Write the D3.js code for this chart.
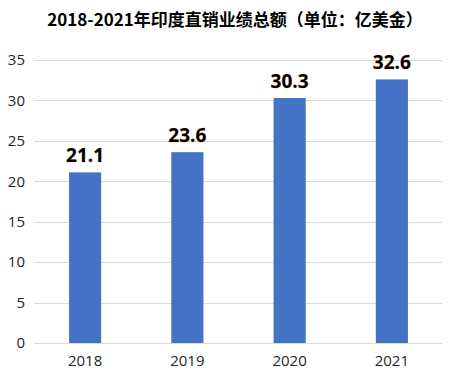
<!DOCTYPE html>
<html><head><meta charset="utf-8">
<script src="https://cdn.jsdelivr.net/npm/d3@7"></script>
<style>body{margin:0;background:#fff}</style>
</head><body>
<svg id="c" width="453" height="389"></svg>
<script>
const categories = ["2018", "2019", "2020", "2021"];
const values = [21.1, 23.6, 30.3, 32.6];
const yTicks = [0, 5, 10, 15, 20, 25, 30, 35];
const titleText = "2018-2021年印度直销业绩总额（单位：亿美金）";

const svg = d3.select("#c");
const m = {left: 34, right: 10, top: 60, bottom: 46};
const W = 453, H = 389;
const x = d3.scaleBand().domain(categories).range([m.left, W - m.right]).paddingInner(0.686).paddingOuter(0.343);
const y = d3.scaleLinear().domain([0, 35]).range([H - m.bottom, m.top]);

svg.append("text").attr("x", 235).attr("y", 26).attr("text-anchor", "middle")
  .attr("font-family", "Noto Sans CJK SC").attr("font-weight", "bold").attr("font-size", 17)
  .attr("fill", "#000").text(titleText);

svg.append("g").selectAll("line").data(yTicks).join("line")
  .attr("x1", m.left).attr("x2", W - m.right)
  .attr("y1", d => Math.round(y(d)) + 0.5).attr("y2", d => Math.round(y(d)) + 0.5)
  .attr("stroke", "#d9d9d9").attr("stroke-width", 1);

const ya = svg.append("g").attr("transform", `translate(${m.left - 9},0)`)
  .call(d3.axisLeft(y).tickValues(yTicks).tickSize(0).tickPadding(0));
ya.select(".domain").remove();
ya.selectAll("text").attr("font-family", "Open Sans, Noto Sans, sans-serif").attr("font-size", 15).attr("fill", "#262626");

const xa = svg.append("g").attr("transform", `translate(0,${H - m.bottom})`)
  .call(d3.axisBottom(x).tickSize(0).tickPadding(12));
xa.select(".domain").remove();
xa.selectAll("text").attr("font-family", "Open Sans, Noto Sans, sans-serif").attr("font-size", 15).attr("fill", "#262626");

svg.append("g").selectAll("rect").data(values).join("rect")
  .attr("x", (d, i) => x(categories[i])).attr("width", x.bandwidth())
  .attr("y", d => y(d)).attr("height", d => y(0) - y(d))
  .attr("fill", "#4472c4");

svg.append("g").selectAll("text").data(values).join("text")
  .attr("x", (d, i) => x(categories[i]) + x.bandwidth() / 2)
  .attr("y", d => y(d) - 10)
  .attr("text-anchor", "middle")
  .attr("font-family", "Open Sans, Noto Sans, sans-serif").attr("font-weight", "bold").attr("font-size", 19)
  .attr("fill", "#000").attr("stroke", "#e8b070").attr("stroke-width", 0.5).attr("paint-order", "stroke")
  .text(d => d.toFixed(1));
</script>
</body></html>
